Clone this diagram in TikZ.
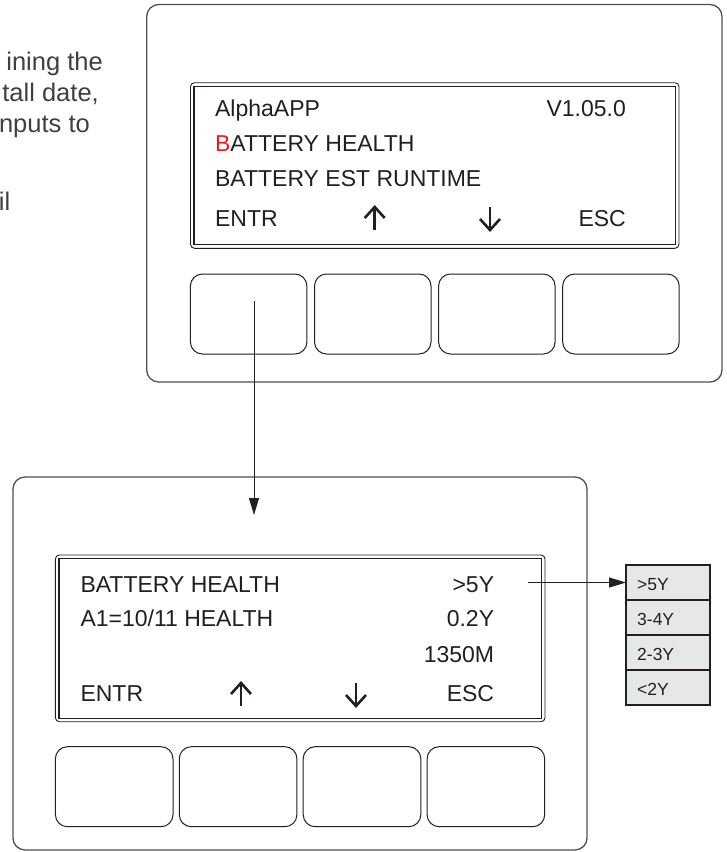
\documentclass[tikz,border=0pt]{standalone}
\usepackage{fontspec}
\setmainfont{Liberation Sans}
\usetikzlibrary{arrows.meta}
\definecolor{edge}{HTML}{505050}
\definecolor{ink}{HTML}{231F20}
\definecolor{redB}{HTML}{ED1C24}
\definecolor{listfill}{HTML}{E6E7E8}
\definecolor{prose}{HTML}{404040}
\begin{document}
\begin{tikzpicture}[x=1pt,y=-1pt,
  panel/.style={draw=edge, line width=1.3pt, rounded corners=12pt, inner sep=0pt, outer sep=0pt},
  scrout/.style={draw=ink, line width=0.9pt, rounded corners=4pt, inner sep=0pt, outer sep=0pt},
  scrin/.style={draw=ink, line width=1.2pt, inner sep=0pt, outer sep=0pt},
  keybox/.style={draw=ink, line width=1pt, rounded corners=12pt, minimum width=116.5pt, minimum height=80pt, inner sep=0pt, outer sep=0pt},
  lcd/.style={font=\fontsize{23}{27}\selectfont, text=ink, inner sep=0pt},
  glyph/.style={draw=ink, line width=2.6pt, line cap=butt, line join=miter},
  listrow/.style={draw=ink, fill=listfill, line width=1.3pt, minimum width=84pt, minimum height=35pt, anchor=north west, inner sep=0pt, outer sep=0pt},
  listtxt/.style={font=\fontsize{17.5}{20}\selectfont, text=ink, inner sep=0pt, anchor=base west},
  prosetxt/.style={font=\fontsize{25.5}{30}\selectfont, text=prose, inner sep=0pt},
  link/.style={draw=ink, line width=1pt, -{Triangle[length=17pt,width=10pt]}},
]
\useasboundingbox (0,0) rectangle (727,852);

% cut-off prose at the left
\node[prosetxt, anchor=base east] (p1) at (103,70) {ining the};
\node[prosetxt, anchor=base east] (p2) at (99,101.5) {tall date,};
\node[prosetxt, anchor=base east] (p3) at (90,132.5) {nputs to};
\node[prosetxt, anchor=base east] (p4) at (10.5,210) {il};

% ---------- top panel ----------
\node[panel, anchor=north west, minimum width=575.3pt, minimum height=377.5pt] (tpanel) at (146.7,4.5) {};
\node[scrout, anchor=north west, minimum width=488.5pt, minimum height=165.6pt] (tscro) at (190.5,82.7) {};
\node[scrin, anchor=north west, minimum width=481.5pt, minimum height=158.6pt] (tscri) at (194,86.2) {};

\node[lcd, anchor=base west] (tl1) at (214.9,116.7) {AlphaAPP};
\node[lcd, anchor=base east] (tver) at (626,116.7) {V1.05.0};
\node[lcd, anchor=base west] (tl2) at (214.9,151.7) {{\color{redB}B}ATTERY HEALTH};
\node[lcd, anchor=base west] (tl3) at (214.9,186.7) {BATTERY EST RUNTIME};
\node[lcd, anchor=base west] (tentr) at (214.9,226) {ENTR};
\node[lcd, anchor=base east] (tesc) at (626,226) {ESC};
% up / down key symbols
\coordinate (tup) at (374.7,207);
\coordinate (tdn) at (490,230);
\draw[glyph] (tup) -- ++(0,23);
\draw[glyph] ([xshift=-10pt,yshift=-11pt]tup) -- (tup) -- ([xshift=10pt,yshift=-11pt]tup);
\draw[glyph] (tdn) -- ++(0,-23);
\draw[glyph] ([xshift=-10pt,yshift=11pt]tdn) -- (tdn) -- ([xshift=10pt,yshift=11pt]tdn);

\node[keybox] (tk1) at (248.65,314) {};
\node[keybox] (tk2) at (372.75,314) {};
\node[keybox] (tk3) at (496.85,314) {};
\node[keybox] (tk4) at (620.95,314) {};

% ---------- bottom panel ----------
\node[panel, anchor=north west, minimum width=574pt, minimum height=373pt] (bpanel) at (13,477) {};
\node[scrout, anchor=north west, minimum width=489.6pt, minimum height=166.7pt] (bscro) at (55.4,555) {};
\node[scrin, anchor=north west, minimum width=482.6pt, minimum height=159.7pt] (bscri) at (58.9,558.5) {};

\node[lcd, anchor=base west] (bl1) at (80.3,592.7) {BATTERY HEALTH};
\node[lcd, anchor=base east] (bv1) at (494.3,592.7) {>5Y};
\node[lcd, anchor=base west] (bl2) at (80.3,626.7) {A1=10/11 HEALTH};
\node[lcd, anchor=base east] (bv2) at (494.3,626.7) {0.2Y};
\node[lcd, anchor=base east] (bv3) at (494.3,662.7) {1350M};
\node[lcd, anchor=base west] (bentr) at (80.3,701) {ENTR};
\node[lcd, anchor=base east] (besc) at (494.3,701) {ESC};
\coordinate (bup) at (241,683);
\coordinate (bdn) at (356,706);
\draw[glyph] (bup) -- ++(0,23);
\draw[glyph] ([xshift=-10pt,yshift=-11pt]bup) -- (bup) -- ([xshift=10pt,yshift=-11pt]bup);
\draw[glyph] (bdn) -- ++(0,-23);
\draw[glyph] ([xshift=-10pt,yshift=11pt]bdn) -- (bdn) -- ([xshift=10pt,yshift=11pt]bdn);

\node[keybox, minimum width=117.6pt] (bk1) at (114.2,786.7) {};
\node[keybox, minimum width=117.6pt] (bk2) at (238.1,786.7) {};
\node[keybox, minimum width=117.6pt] (bk3) at (362,786.7) {};
\node[keybox, minimum width=117.6pt] (bk4) at (485.9,786.7) {};

% ---------- option list ----------
\node[listrow] (r1) at (626,565) {};
\node[listrow] (r2) at (626,600) {};
\node[listrow] (r3) at (626,635) {};
\node[listrow] (r4) at (626,670) {};
\node[listtxt] (r1t) at (637,590) {>5Y};
\node[listtxt] (r2t) at (637,625) {3-4Y};
\node[listtxt] (r3t) at (637,660) {2-3Y};
\node[listtxt] (r4t) at (637,695) {<2Y};

% ---------- connectors ----------
\coordinate (tsrc) at (254,301);
\coordinate (bdst) at (254,515);
\draw[link] (tsrc) -- (bdst);
\coordinate (vsrc) at (528,582.5);
\draw[link] (vsrc) -- (r1.west);
\end{tikzpicture}
\end{document}
